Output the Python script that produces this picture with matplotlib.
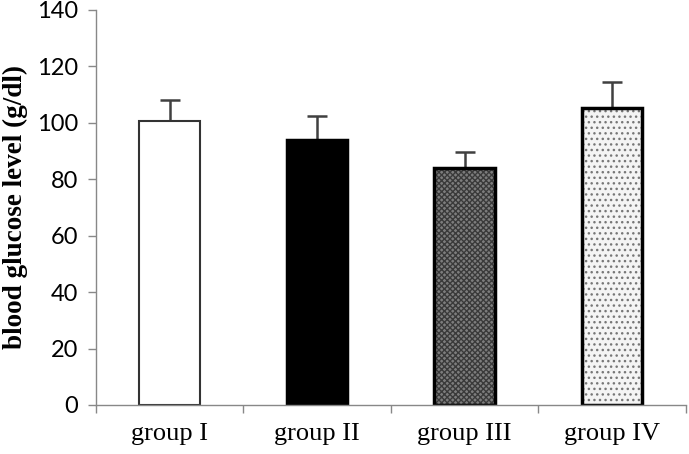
import numpy as np
import matplotlib.pyplot as plt

groups = ['group I', 'group II', 'group III', 'group IV']
means = [100.8, 94.0, 84.0, 105.3]
errors = [7.2, 8.5, 5.6, 9.3]

fills = ['white', 'black', '#7d7d7d', '#f4f4f4']
hatches = [None, None, 'xxxxxx', '...']
hatch_colors = ['black', 'black', '#3a3a3a', '#777777']
edge_widths = [1.5, 2.5, 2.5, 2.5]
edge_colors = ['#333333', 'black', 'black', 'black']

fig = plt.figure(figsize=(6.89, 4.54), dpi=100)
ax = fig.add_axes([0.1393, 0.108, 0.8563, 0.870])

x = np.arange(len(groups))
for i in range(len(groups)):
    b = ax.bar(x[i], means[i], width=0.41, color=fills[i], edgecolor=edge_colors[i],
               linewidth=edge_widths[i], hatch=hatches[i], zorder=2)
    if hatches[i]:
        b[0]._hatch_color = plt.matplotlib.colors.to_rgba(hatch_colors[i])

ax.errorbar(x, means, yerr=[np.zeros(len(means)), errors], fmt='none',
            ecolor='#404040', elinewidth=1.8, capsize=7, capthick=1.8, zorder=1)

ax.set_xlim(-0.5, len(groups) - 0.5)
ax.set_ylim(0, 140)
ax.set_yticks(np.arange(0, 141, 20))
ax.set_xticks(x)
ax.set_xticklabels(groups, family='Liberation Serif', fontsize=19)
ax.set_xticks(np.arange(-0.5, len(groups), 1), minor=True)
ax.tick_params(axis='x', which='major', length=0, pad=13)
ax.tick_params(axis='x', which='minor', length=6, color='#888888', width=1)
ax.tick_params(axis='y', length=6, color='#888888', width=1, labelsize=17, pad=7)
for lab in ax.get_yticklabels():
    lab.set_family('Lato')

ax.set_ylabel('blood glucose level (g/dl)', family='Liberation Serif',
              fontweight='bold', fontsize=19.5, labelpad=6)

for s in ['top', 'right']:
    ax.spines[s].set_visible(False)
for s in ['left', 'bottom']:
    ax.spines[s].set_color('#888888')
    ax.spines[s].set_linewidth(1)

fig.savefig('out.png', dpi=100)
